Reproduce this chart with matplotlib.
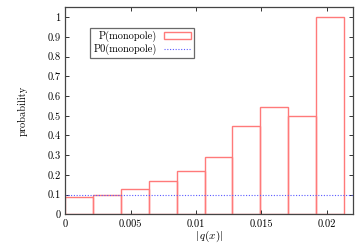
import numpy as np
import matplotlib
matplotlib.use("Agg")
import matplotlib.pyplot as plt

# Histogram data
binEdges = [0.0, 0.002132, 0.004264, 0.006396, 0.008528, 0.01066,
            0.01279, 0.01492, 0.01706, 0.01919, 0.02132]
pMonopole = [0.087, 0.096, 0.126, 0.167, 0.221, 0.293, 0.450, 0.545, 0.501, 1.0]
p0Monopole = 0.096

xTicks = [0, 0.005, 0.01, 0.015, 0.02]
xTickLabels = ["0", "0.005", "0.01", "0.015", "0.02"]
yTicks = [0, 0.1, 0.2, 0.3, 0.4, 0.5, 0.6, 0.7, 0.8, 0.9, 1]
yTickLabels = ["0", "0.1", "0.2", "0.3", "0.4", "0.5", "0.6", "0.7", "0.8", "0.9", "1"]

plt.rcParams["font.family"] = ["cmr10", "DejaVu Serif"]
plt.rcParams["mathtext.fontset"] = "cm"
plt.rcParams["axes.unicode_minus"] = False

fig = plt.figure(figsize=(3.58, 2.45), dpi=100)
ax = fig.add_axes([0.1827, 0.1253, 0.8023, 0.8447])

redCol = "#ff7a7a"
blueCol = "#5a5aff"

edges = np.array(binEdges)
widths = np.diff(edges)
bars = ax.bar(edges[:-1], pMonopole, width=widths, align="edge", fill=False,
              edgecolor=redCol, linewidth=1.0, label="P(monopole)")
p0Line = ax.axhline(p0Monopole, color=blueCol, linewidth=0.8, linestyle=(0, (1, 1.5)),
                    label="P0(monopole)")

ax.set_xlim(0, 0.022)
ax.set_ylim(0, 1.05)
ax.set_xticks(xTicks)
ax.set_xticklabels(xTickLabels)
ax.set_yticks(yTicks)
ax.set_yticklabels(yTickLabels)
ax.tick_params(direction="in", top=True, right=True, length=3, width=0.7,
               labelsize=7.5, colors="#333333", labelcolor="black")
for s in ax.spines.values():
    s.set_linewidth(0.9)
    s.set_color("#444444")

ax.set_xlabel(r"$|\,q(x)|$", fontsize=8, labelpad=0)
ax.set_ylabel("probability", fontsize=7.5, labelpad=14)

leg = ax.legend([bars, p0Line], ["P(monopole)", "P0(monopole)"],
                loc="upper left", bbox_to_anchor=(0.086, 0.90), markerfirst=False,
                fontsize=7.5, frameon=True, fancybox=False, borderpad=0.3,
                handlelength=2.6, handleheight=0.6, handletextpad=0.7,
                labelspacing=0.15, borderaxespad=0)
leg.get_frame().set_edgecolor("#444444")
leg.get_frame().set_linewidth(0.9)

fig.savefig("out.png", dpi=100)
